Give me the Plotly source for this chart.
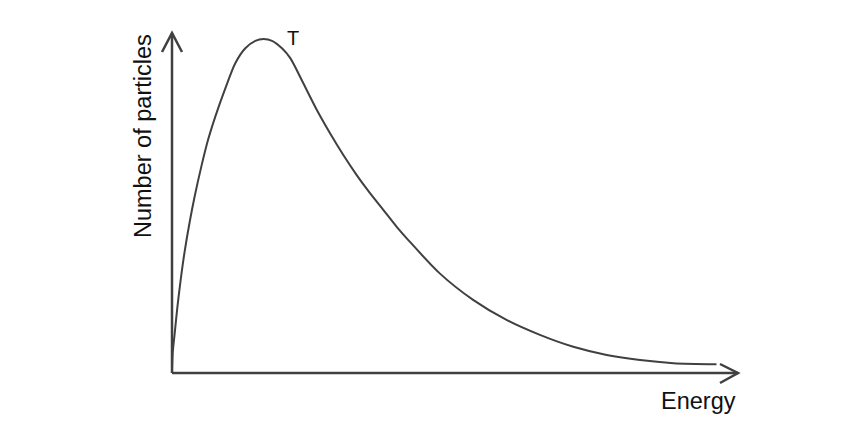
import plotly.graph_objects as go

# Curva de distribución (energía vs número de partículas)
energia = [0.0, 0.012, 0.048, 0.094, 0.154, 0.224, 0.313, 0.401, 0.518, 0.636,
           0.765, 0.942, 1.118, 1.295, 1.472, 1.620, 1.767, 1.943, 2.090, 2.320,
           2.557, 2.792, 3.027, 3.263, 3.498, 3.733, 3.970, 4.175, 4.73, 5.32,
           5.91, 6.50, 7.09, 7.68, 8.27, 8.86, 9.62]
particulas = [0.0, 0.58, 1.17, 1.92, 2.75, 3.58, 4.45, 5.20, 6.07, 6.85,
              7.54, 8.37, 9.11, 9.55, 9.77, 9.82, 9.77, 9.55, 9.26, 8.52,
              7.74, 7.05, 6.41, 5.82, 5.29, 4.80, 4.30, 3.91, 2.93, 2.15,
              1.56, 1.12, 0.77, 0.53, 0.38, 0.29, 0.26]

etiqueta_curva = "T"
titulo_x = "Energy"
titulo_y = "Number of particles"

GRIS = "#404040"
OFF = 8  # margen por defecto del <body> en la página
W, H = 854 - OFF, 428 - OFF
L, T = 172 - OFF, 33 - OFF
pw, ph = 566, 340
R, B = W - L - pw, H - T - ph

fig = go.Figure()
fig.add_trace(go.Scatter(
    x=energia, y=particulas, mode="lines",
    line=dict(color=GRIS, width=2, shape="spline", smoothing=0.8),
    hoverinfo="skip", showlegend=False,
))

# ejes con flechas abiertas (coordenadas de papel a partir de píxeles de pantalla)
def px2paper(x, y):
    return (x - OFF - L) / pw, (H - B - (y - OFF)) / ph

x0, y0 = px2paper(172, 373)
xt, _ = px2paper(738, 373)
_, yt = px2paper(172, 33)
ax_, ay1 = px2paper(720, 364)
_, ay2 = px2paper(720, 383)
bx1, by_ = px2paper(162, 52)
bx2, _ = px2paper(182, 52)

linea = dict(color=GRIS, width=2.5)
fig.add_shape(type="line", xref="paper", yref="paper", x0=x0, y0=y0, x1=xt, y1=y0, line=linea)
fig.add_shape(type="line", xref="paper", yref="paper", x0=x0, y0=y0, x1=x0, y1=yt, line=linea)
fig.add_shape(type="path", xref="paper", yref="paper",
              path=f"M {ax_} {ay1} L {xt} {y0} L {ax_} {ay2}", line=linea)
fig.add_shape(type="path", xref="paper", yref="paper",
              path=f"M {bx1} {by_} L {x0} {yt} L {bx2} {by_}", line=linea)

fuente = "Liberation Sans, Arial, sans-serif"
ex, ey = px2paper(738, 401)
fig.add_annotation(xref="paper", yref="paper", x=ex, y=ey, text=titulo_x,
                   showarrow=False, xanchor="right", yanchor="middle",
                   font=dict(family=fuente, size=23.5, color="#111111"))
nx, ny = px2paper(143, 136)
fig.add_annotation(xref="paper", yref="paper", x=nx, y=ny, text=titulo_y,
                   showarrow=False, textangle=-90, xanchor="center", yanchor="middle",
                   font=dict(family=fuente, size=23.5, color="#111111"))
tx, ty = px2paper(292.5, 38)
fig.add_annotation(xref="paper", yref="paper", x=tx, y=ty, text=etiqueta_curva,
                   showarrow=False, xanchor="center", yanchor="middle",
                   font=dict(family=fuente, size=20, color="#111111"))

fig.update_xaxes(range=[0, 10], visible=False)
fig.update_yaxes(range=[0, 10], visible=False)
fig.update_layout(
    width=W, height=H,
    margin=dict(l=L, r=R, t=T, b=B),
    plot_bgcolor="white", paper_bgcolor="white",
)

fig.write_html("out.html")
